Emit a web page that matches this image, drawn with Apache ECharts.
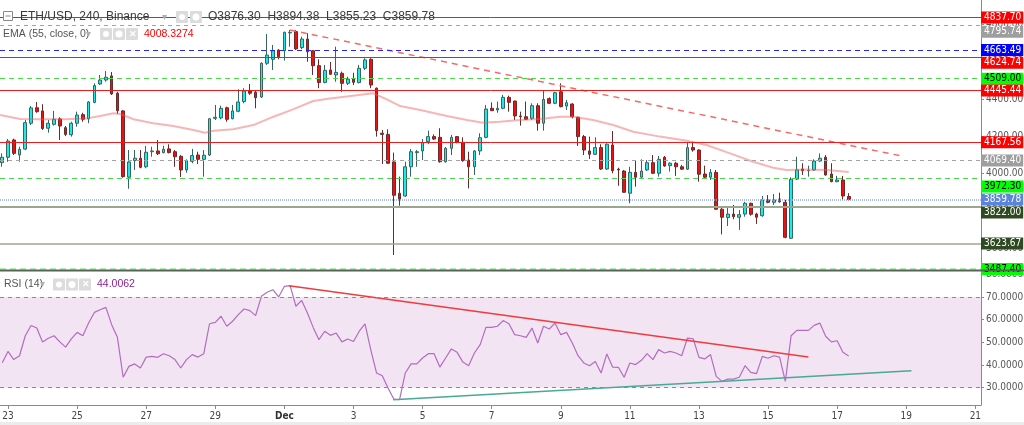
<!DOCTYPE html>
<html><head><meta charset="utf-8">
<script src="https://cdn.jsdelivr.net/npm/echarts@6/dist/echarts.min.js"></script>
<style>html,body{margin:0;padding:0;background:#fff}#c{width:1024px;height:425px}</style>
</head><body><div id="c"></div>
<script>
// ---------------- DATA ----------------
const firstBar = -1; // bar index of first candle (index 0 = Nov 23 00:00, 4h bars)
const open = [
4058,4087,4180,4099,4131,4270,4353,4336,4243,4264,
4293,4246,4208,4270,4316,4293,4382,4481,4502,4524,
4431,4336,3980,4069,4082,4036,4117,4121,4112,4132,
4117,4092,4019,4065,4099,4076,4099,4296,4298,4353,
4294,4334,4386,4443,4436,4411,4592,4613,4663,4659,
4755,4762,4676,4722,4659,4579,4489,4556,4529,4538,
4484,4511,4488,4565,4613,4458,4216,4210,4062,3894,
3879,4036,4112,4121,4171,4198,4194,4063,4135,4198,
4167,4072,4036,4121,4194,4350,4341,4350,4409,4389,
4309,4305,4296,4364,4270,4402,4377,4439,4362,4373,
4302,4198,4121,4103,4139,4024,4153,4023,4013,3894,
4006,3980,4019,4058,4001,4087,4042,4055,4036,4023,
4139,4126,3997,3980,4006,3808,3763,3782,3765,3782,
3840,3782,3773,3858,3845,3863,3845,3652,3970,4024,
4015,4019,4067,4087,3997,3956,3965,3876.30];
const high = [
4108,4185,4187,4144,4287,4362,4384,4372,4287,4336,
4302,4255,4278,4332,4326,4389,4484,4529,4550,4545,
4439,4341,4126,4126,4126,4148,4144,4180,4149,4157,
4126,4099,4076,4132,4117,4126,4298,4368,4364,4359,
4368,4452,4458,4481,4448,4597,4749,4690,4667,4762,
4771,4771,4735,4753,4663,4613,4583,4599,4681,4547,
4520,4541,4583,4619,4619,4462,4234,4237,4112,3983,
4063,4132,4126,4185,4230,4210,4243,4142,4207,4199,
4194,4117,4126,4216,4368,4382,4386,4422,4418,4391,
4332,4386,4377,4377,4445,4409,4439,4484,4395,4377,
4305,4207,4198,4194,4157,4162,4228,4031,4019,4036,
4067,4076,4072,4099,4094,4094,4060,4063,4046,4165,
4171,4130,4042,4024,4019,3825,3816,3831,3804,3848,
3843,3789,3879,3884,3890,3897,3858,3980,4090,4055,
4042,4076,4108,4099,4055,3987,3987,3894.38];
const low = [
4036,4063,4099,4063,4126,4260,4326,4234,4219,4257,
4180,4201,4198,4251,4278,4270,4377,4475,4493,4422,
4320,3977,3918,4019,4028,4028,4090,4099,4108,4108,
4036,3981,4004,4055,4051,3983,4094,4287,4291,4278,
4291,4329,4377,4422,4350,4405,4583,4556,4613,4606,
4681,4663,4667,4600,4529,4458,4484,4529,4493,4439,
4475,4475,4484,4556,4458,4198,4051,4051,3562,3827,
3875,3983,4036,4072,4158,4180,4058,4058,4099,4162,
4063,3920,3992,4099,4189,4336,4326,4345,4332,4287,
4257,4287,4287,4230,4230,4373,4373,4355,4341,4296,
4148,4099,4078,4099,4019,4019,4001,3934,3897,3840,
3929,3969,4013,3997,3983,4036,4010,3987,4019,4019,
4117,3956,3974,3965,3804,3673,3718,3754,3697,3768,
3773,3729,3768,3840,3831,3843,3652,3648,3965,3992,
3983,4015,4063,3988,3953,3953,3858,3855.23];
const close = [
4087,4174,4108,4130,4273,4352,4332,4241,4270,4291,
4255,4210,4270,4314,4291,4384,4472,4502,4517,4427,
4337,3983,4062,4082,4033,4114,4121,4106,4130,4112,
4090,4019,4069,4096,4076,4098,4294,4302,4350,4291,
4336,4384,4443,4431,4407,4592,4636,4659,4627,4758,
4758,4669,4722,4654,4579,4488,4554,4533,4543,4484,
4507,4490,4565,4610,4475,4230,4210,4055,3883,3861,
4036,4117,4117,4167,4198,4185,4063,4135,4194,4167,
4069,4036,4121,4192,4346,4337,4350,4409,4382,4309,
4305,4291,4364,4270,4398,4377,4434,4359,4380,4305,
4198,4126,4103,4139,4024,4157,4015,4019,3899,4006,
3980,4013,4058,4001,4076,4040,4055,4036,4023,4139,
4126,3996,3980,4006,3808,3765,3782,3768,3779,3840,
3781,3765,3858,3845,3858,3848,3657,3969,4019,4015,
4017,4067,4082,3992,3956,3965,3879,3859.78];

// EMA (55) at these bar positions
const emaBars = [-1.4,2.1,5.6,10.2,13.7,16,18.3,19.5,21.8,25.2,28.7,32.2,34.2,35.7,39.1,42.6,46.1,49.5,53,55.9,
  58.8,63.4,65.8,68.1,71.6,76.2,79.7,82.5,85.4,88.9,92.4,95.9,98.2,101.6,105.1,108.6,113.2,117.9,121.3,125.4,
  129.4,132.9,135.2,138.7,142.2,146];
const emaValues = [4314,4293,4291,4291,4296,4309,4323,4320,4291,4270,4255,4234,4219,4230,4237,4260,4305,4344,4389,4403,
  4413,4431,4398,4362,4341,4309,4287,4273,4278,4287,4293,4305,4305,4287,4260,4224,4198,4176,4153,4108,
  4063,4031,4019,4022,4019,4008.33];
const emaLast = 4008.3274;

// RSI (14), one value per candle
const rsiValues = [
41.0,46.0,42.4,44.1,52.9,57.4,56.3,50.2,51.8,52.9,
50.2,47.9,51.5,54.4,52.9,58.5,63.2,64.4,65.4,57.8,
52.2,34.6,39.4,40.5,38.7,43.5,43.8,43.4,45.0,44.1,
42.4,38.7,42.4,44.6,43.5,45.0,58.2,58.8,61.5,57.1,
59.3,62.2,64.7,64.0,61.8,70.3,72.1,73.2,70.0,74.7,
75.0,65.9,68.5,62.9,56.6,51.2,54.9,53.1,54.1,50.2,
51.5,50.4,54.9,58.1,46.8,36.5,35.3,29.9,25.0,24.7,
36.5,40.5,40.5,43.1,45.0,45.0,39.1,43.1,47.1,45.6,
41.3,39.7,45.3,49.0,56.6,56.6,57.1,59.6,58.2,53.4,
52.9,52.2,56.3,49.7,57.1,55.9,58.5,53.4,54.4,49.7,
44.1,40.9,39.7,41.6,36.5,44.9,39.1,39.0,34.6,40.9,
40.2,42.1,45.0,42.4,46.8,45.3,46.0,45.3,44.1,51.9,
51.6,43.4,42.7,44.6,35.0,32.8,33.8,33.8,34.6,39.7,
36.8,36.2,43.8,43.0,44.1,43.5,32.8,52.9,55.3,55.3,
55.3,57.5,58.5,52.7,50.2,50.7,45.6,44.0062];
const rsiLast = 44.0062;
const rsiBand = [30, 70];

// drawn trend lines (bar, value)
const trendBars = [49, 154.9];
const trendPrices = [4770.6, 4095.5];
const rsiResBars = [48.8, 139];
const rsiResValues = [75.0, 43.5];
const rsiSupBars = [66.9, 156.9];
const rsiSupValues = [24.7, 37.5];

// horizontal price levels
const levelValues = [4837.70, 4795.74, 4663.49, 4624.74, 4509.00, 4445.44, 4167.56, 4069.40, 3972.30, 3859.78, 3822.00, 3623.67, 3487.40];
const levelKinds  = ['red','gray','blue','red','green','red','red','gray','green','last','sup','sup2','green2'];

// axis ticks
const dayTickBars = [0,12,24,36,48,60,72,84,96,108,120,132,144,156,168];
const dayLabels = ['23','25','27','29','Dec','3','5','7','9','11','13','15','17','19','21'];
const priceTicks = [3600,3800,4000,4200,4400,4600,4800];
const rsiTicks = [30,40,50,60,70,80];

// ---------------- STYLE / LAYOUT ----------------
const NARROW = "'Liberation Sans Narrow','Arial Narrow','DejaVu Sans Condensed','Liberation Sans',sans-serif";
const SANS = "'Liberation Sans',Arial,sans-serif";
const X_MIN = -1.39, X_MAX = 168.98;
const PRICE_MIN = 3481.6, PRICE_MAX = 4931.7;
const RSI_MIN = 22.38, RSI_MAX = 81.02;

const kindStyle = {
  red:   {line:{color:'#f21b1b', type:'solid', width:1}, bg:'#ff0000', fg:'#fff'},
  gray:  {line:{color:'#a3a3a3', type:[4,4], width:1}, bg:'#9e9e9e', fg:'#fff'},
  blue:  {line:{color:'#2626ee', type:[5,4], width:1}, bg:'#0000ff', fg:'#fff'},
  green: {line:{color:'#47d947', type:[5,4], width:1}, bg:'#00ff00', fg:'#000'},
  last:  {line:{color:'#93a9ec', type:[1,1], width:1.5}, bg:'#5b84dd', fg:'#fff'},
  sup:   {line:{color:'#9aa88f', type:'solid', width:2}, bg:'#2f4a22', fg:'#fff'},
  sup2:  {line:{color:'#9aa88f', type:'solid', width:1.5}, bg:'#2f4a22', fg:'#fff'},
  green2:{line:{color:'#a8f5a8', type:[6,4], width:3}, bg:'#00ff00', fg:'#000'}
};
const labelShift = {1:6.5, 3:5.6, 8:7.8, 10:6};

function tagLabel(bg, fg, dy, digits){
  return {show:true, position:'end', distance:0, offset:[0, dy||0],
    formatter: p => Number(p.value).toFixed(digits),
    backgroundColor:bg, color:fg, padding:[2,2,1,3], fontSize:10, lineHeight:9, fontFamily:NARROW};
}

const levelMarks = levelValues.map((v,i) => {
  const s = kindStyle[levelKinds[i]];
  return {yAxis:v, lineStyle:s.line, label:tagLabel(s.bg, s.fg, labelShift[i], 2)};
});

const candleData = open.map((o,i) => [firstBar+i, o, close[i], low[i], high[i]]);
const emaData = emaBars.map((b,i) => [b, emaValues[i]]);
const rsiData = rsiValues.map((v,i) => [firstBar+i, v]);

const lastO = open[open.length-1], lastH = high[high.length-1], lastL = low[low.length-1], lastC = close[close.length-1];

function iconBox(x, y){ return {type:'rect', shape:{x:x, y:y, width:12, height:12, r:1}, style:{fill:'#dcdcdc'}, z:200}; }

const chart = echarts.init(document.getElementById('c'), null, {renderer:'canvas'});
chart.setOption({
  animation:false,
  backgroundColor:'#ffffff',
  grid:[
    {left:0, right:43, top:0, height:270, containLabel:false, outerBoundsMode:'none'},
    {left:0, right:43, top:272, height:133, containLabel:false, outerBoundsMode:'none'}
  ],
  xAxis:[
    {gridIndex:0, type:'value', min:X_MIN, max:X_MAX, show:false},
    {gridIndex:1, type:'value', min:X_MIN, max:X_MAX, position:'bottom',
      axisLine:{show:true, onZero:false, lineStyle:{color:'#8a8a8a', width:1}},
      axisTick:{show:true, length:4, lineStyle:{color:'#8a8a8a'}, customValues:dayTickBars},
      splitLine:{show:false},
      axisLabel:{customValues:dayTickBars, margin:6, fontSize:10, color:'#444', fontFamily:NARROW,
        formatter: v => { const i = dayTickBars.indexOf(Math.round(v)); const t = dayLabels[i]; return t === 'Dec' ? '{b|Dec}' : t; },
        rich:{b:{fontWeight:'bold', fontSize:10, color:'#333', fontFamily:NARROW}}}}
  ],
  yAxis:[
    {gridIndex:0, type:'value', position:'right', min:PRICE_MIN, max:PRICE_MAX, scale:true,
      axisLine:{show:true, onZero:false, lineStyle:{color:'#8a8a8a'}},
      axisTick:{show:true, length:3, lineStyle:{color:'#8a8a8a'}, customValues:priceTicks},
      splitLine:{show:false},
      axisLabel:{customValues:priceTicks, margin:5, fontSize:10, color:'#555', fontFamily:NARROW, formatter:v=>v.toFixed(2)}},
    {gridIndex:1, type:'value', position:'right', min:RSI_MIN, max:RSI_MAX,
      axisLine:{show:true, onZero:false, lineStyle:{color:'#8a8a8a'}},
      axisTick:{show:true, length:3, lineStyle:{color:'#8a8a8a'}, customValues:rsiTicks},
      splitLine:{show:false},
      axisLabel:{customValues:rsiTicks, margin:5, fontSize:10, color:'#555', fontFamily:NARROW, formatter:v=>v.toFixed(4)}}
  ],
  series:[
    {type:'candlestick', xAxisIndex:0, yAxisIndex:0, data:candleData,
      dimensions:['bar','open','close','low','high'], encode:{x:'bar', y:['open','close','low','high']},
      barWidth:3.2,
      itemStyle:{color:'#19eaea', color0:'#ee1010', borderColor:'#35665f', borderColor0:'#6b2b2b', borderWidth:1},
      markLine:{silent:true, symbol:['none','none'], data:levelMarks}},
    {type:'line', xAxisIndex:0, yAxisIndex:0, data:emaData, showSymbol:false, z:3,
      lineStyle:{color:'rgba(240,90,90,0.45)', width:2},
      markLine:{silent:true, symbol:['none','none'],
        data:[{yAxis:emaLast, lineStyle:{opacity:0}, label:tagLabel('#ff0000','#fff',1.5,2)}]}},
    {type:'line', xAxisIndex:0, yAxisIndex:0, data:trendBars.map((b,i)=>[b,trendPrices[i]]), showSymbol:false, z:4,
      lineStyle:{color:'#f26a6a', width:1.5, type:[6,5]}},
    {type:'line', xAxisIndex:1, yAxisIndex:1, data:rsiData, showSymbol:false, z:3,
      lineStyle:{color:'#b36cc0', width:1.2},
      markArea:{silent:true, itemStyle:{color:'#f2e4f3'}, data:[[{yAxis:rsiBand[0]},{yAxis:rsiBand[1]}]]},
      markLine:{silent:true, symbol:['none','none'], data:[
        {yAxis:rsiBand[1], lineStyle:{color:'#8c8c8c', type:[4,4], width:1}, label:{show:false}},
        {yAxis:rsiBand[0], lineStyle:{color:'#8c8c8c', type:[4,4], width:1}, label:{show:false}},
        {yAxis:rsiLast, lineStyle:{opacity:0}, label:tagLabel('#800080','#fff',0,4)}
      ]}},
    {type:'line', xAxisIndex:1, yAxisIndex:1, data:rsiResBars.map((b,i)=>[b,rsiResValues[i]]), showSymbol:false, z:4,
      lineStyle:{color:'#f23b3b', width:1.5}},
    {type:'line', xAxisIndex:1, yAxisIndex:1, data:rsiSupBars.map((b,i)=>[b,rsiSupValues[i]]), showSymbol:false, z:4,
      lineStyle:{color:'#48a994', width:1.5}}
  ],
  graphic:[
    {type:'rect', shape:{x:0, y:269.5, width:1024, height:2}, style:{fill:'#5e5e5e'}, z:150},
    {type:'rect', shape:{x:0, y:422, width:1024, height:3}, style:{fill:'#ececec'}, z:150},
    // header
    {type:'rect', shape:{x:3.5, y:11.5, width:9, height:9}, style:{fill:'#fff', stroke:'#8a8a8a', lineWidth:1}, z:200},
    {type:'line', shape:{x1:5.5, y1:16, x2:10.5, y2:16}, style:{stroke:'#8a8a8a', lineWidth:1}, z:200},
    {type:'text', x:20, y:17, z:200, style:{text:'ETH/USD, 240, Binance', fill:'#3a3a3a', font:'12px '+SANS, verticalAlign:'middle'}},
    {type:'text', x:162, y:17, z:200, style:{text:'▾', fill:'#b0b0b0', font:'10px '+SANS, verticalAlign:'middle'}},
    iconBox(176, 11), iconBox(190, 11),
    {type:'circle', shape:{cx:182, cy:17, r:3}, style:{fill:'#fff'}, z:201},
    {type:'circle', shape:{cx:196, cy:17, r:3.5}, style:{fill:'#fff'}, z:201},
    {type:'text', x:208, y:17, z:200, style:{text:'O'+lastO.toFixed(2)+'  H'+lastH.toFixed(2)+'  L'+lastL.toFixed(2)+'  C'+lastC.toFixed(2), fill:'#3a3a3a', font:'12px '+SANS, verticalAlign:'middle'}},
    // EMA legend
    {type:'text', x:3, y:34, z:200, style:{text:'EMA (55, close, 0)', fill:'#555', font:'10.5px '+SANS, verticalAlign:'middle'}},
    {type:'text', x:86, y:34, z:200, style:{text:'▾', fill:'#b0b0b0', font:'10px '+SANS, verticalAlign:'middle'}},
    iconBox(100, 28), iconBox(113, 28), iconBox(126, 28),
    {type:'circle', shape:{cx:106, cy:34, r:3}, style:{fill:'#fff'}, z:201},
    {type:'circle', shape:{cx:119, cy:34, r:3.5}, style:{fill:'#fff'}, z:201},
    {type:'text', x:128.5, y:34.5, z:201, style:{text:'✕', fill:'#fff', font:'bold 9px '+SANS, verticalAlign:'middle'}},
    {type:'text', x:144, y:34, z:200, style:{text:emaLast.toFixed(4), fill:'#ff0000', font:'10.5px '+SANS, verticalAlign:'middle'}},
    // RSI legend
    {type:'text', x:4, y:284.5, z:200, style:{text:'RSI (14)', fill:'#555', font:'10.5px '+SANS, verticalAlign:'middle'}},
    {type:'text', x:40, y:284.5, z:200, style:{text:'▾', fill:'#b0b0b0', font:'10px '+SANS, verticalAlign:'middle'}},
    iconBox(53, 278.5), iconBox(66, 278.5), iconBox(79, 278.5),
    {type:'circle', shape:{cx:59, cy:284.5, r:3}, style:{fill:'#fff'}, z:201},
    {type:'circle', shape:{cx:72, cy:284.5, r:3.5}, style:{fill:'#fff'}, z:201},
    {type:'text', x:81.5, y:285, z:201, style:{text:'✕', fill:'#fff', font:'bold 9px '+SANS, verticalAlign:'middle'}},
    {type:'text', x:97, y:284.5, z:200, style:{text:rsiLast.toFixed(4), fill:'#8e1f9a', font:'10.5px '+SANS, verticalAlign:'middle'}}
  ]
});
</script></body></html>
